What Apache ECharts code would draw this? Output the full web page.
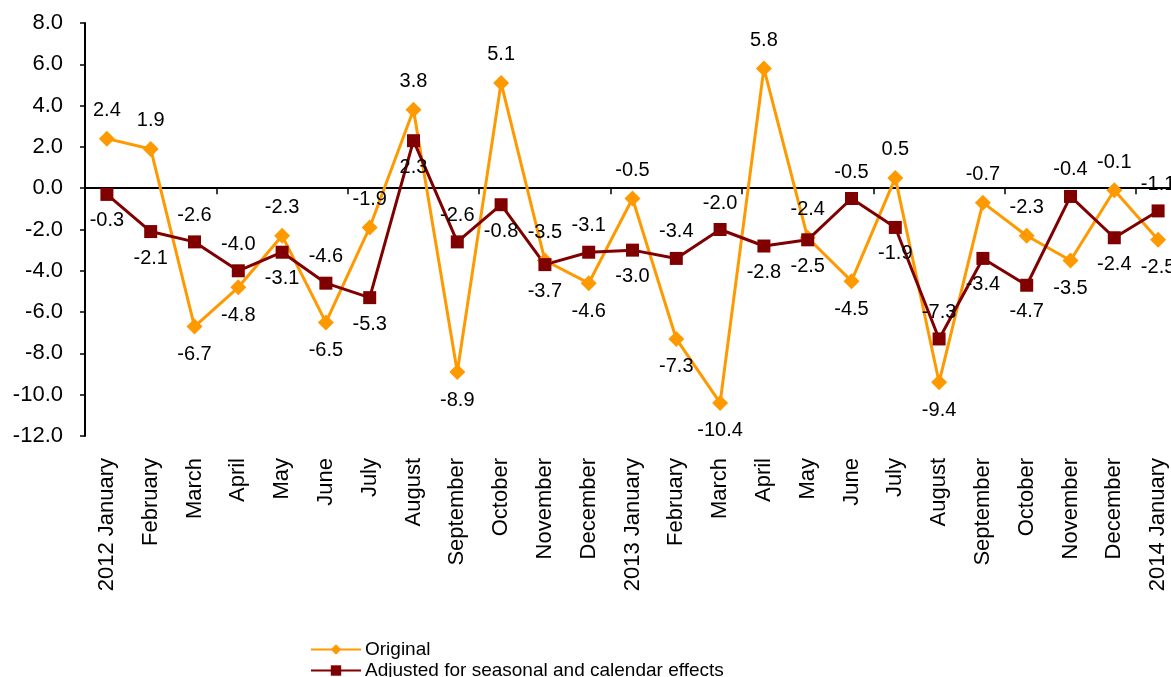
<!DOCTYPE html>
<html>
<head>
<meta charset="utf-8">
<script src="https://cdn.jsdelivr.net/npm/echarts@6/dist/echarts.min.js"></script>
<style>
    html, body { margin: 0; padding: 0; background: #fff; }
    #chart { width: 1171px; height: 677px; }
</style>
</head>
<body>
<div id="chart"></div>
<script>
var months = ['2012 January', 'February', 'March', 'April', 'May', 'June', 'July', 'August',
    'September', 'October', 'November', 'December', '2013 January', 'February', 'March', 'April',
    'May', 'June', 'July', 'August', 'September', 'October', 'November', 'December', '2014 January'];
var original = [2.4, 1.9, -6.7, -4.8, -2.3, -6.5, -1.9, 3.8, -8.9, 5.1, -3.5, -4.6,
    -0.5, -7.3, -10.4, 5.8, -2.4, -4.5, 0.5, -9.4, -0.7, -2.3, -3.5, -0.1, -2.5];
var adjusted = [-0.3, -2.1, -2.6, -4.0, -3.1, -4.6, -5.3, 2.3, -2.6, -0.8, -3.7, -3.1,
    -3.0, -3.4, -2.0, -2.8, -2.5, -0.5, -1.9, -7.3, -3.4, -4.7, -0.4, -2.4, -1.1];
var seriesNames = ['Original', 'Adjusted for seasonal and calendar effects'];
var yTicks = { min: -12, max: 8, step: 2 };

var font = 'Liberation Sans, Arial, sans-serif';

// the higher of the two points gets its label above, the lower one below
function withLabels(values, other) {
    return values.map(function (v, i) {
        return {
            value: v,
            label: { position: v >= other[i] ? 'top' : 'bottom' }
        };
    });
}

// one legend per row, stacked like the original key
function legendRow(name, top) {
    return {
        orient: 'horizontal',
        left: 310,
        top: top,
        itemWidth: 50,
        itemHeight: 13,
        itemGap: 0,
        padding: 0,
        textStyle: { fontFamily: font, fontSize: 19, color: '#000', padding: [0, 0, 0, -1] },
        data: [name]
    };
}

var chart = echarts.init(document.getElementById('chart'));
var option = {
    animation: false,
    backgroundColor: '#fff',
    textStyle: { fontFamily: font },
    grid: {
        left: 85,
        top: 23,
        bottom: 241,
        right: -9,
        containLabel: false,
        outerBoundsMode: 'none'
    },
    legend: [legendRow(seriesNames[0], 640), legendRow(seriesNames[1], 661)],
    xAxis: [{
        // zero line with ticks between the months
        type: 'category',
        data: months,
        position: 'bottom',
        boundaryGap: true,
        axisLine: { onZero: true, lineStyle: { color: '#000', width: 2 } },
        axisTick: { show: true, length: 6, lineStyle: { color: '#000', width: 1.5 } },
        axisLabel: { show: false },
        splitLine: { show: false }
    }, {
        // month names along the bottom of the plot
        type: 'category',
        data: months,
        position: 'bottom',
        boundaryGap: true,
        axisLine: { show: false, onZero: false },
        axisTick: { show: false },
        axisLabel: {
            rotate: 90,
            margin: 22,
            interval: 0,
            fontFamily: font,
            fontSize: 22,
            color: '#000'
        },
        splitLine: { show: false }
    }],
    yAxis: {
        type: 'value',
        min: yTicks.min,
        max: yTicks.max,
        interval: yTicks.step,
        axisLine: { show: true, lineStyle: { color: '#000', width: 2 } },
        axisTick: { show: true, length: 5, lineStyle: { color: '#000', width: 1.5 } },
        axisLabel: {
            margin: 22,
            fontFamily: font,
            fontSize: 22,
            color: '#000',
            formatter: function (v) { return v.toFixed(1); }
        },
        splitLine: { show: false }
    },
    series: [{
        name: seriesNames[0],
        type: 'line',
        xAxisIndex: 0,
        data: withLabels(original, adjusted),
        symbol: 'diamond',
        symbolSize: 16,
        color: '#FF9900',
        lineStyle: { color: '#FF9900', width: 3 },
        itemStyle: { color: '#FF9900' },
        label: {
            show: true,
            distance: 10,
            fontFamily: font,
            fontSize: 20,
            color: '#000',
            formatter: function (p) { return p.value.toFixed(1); }
        }
    }, {
        name: seriesNames[1],
        type: 'line',
        xAxisIndex: 0,
        data: withLabels(adjusted, original),
        symbol: 'rect',
        symbolSize: 13,
        color: '#800000',
        lineStyle: { color: '#800000', width: 3 },
        itemStyle: { color: '#800000' },
        label: {
            show: true,
            distance: 10,
            fontFamily: font,
            fontSize: 20,
            color: '#000',
            formatter: function (p) { return p.value.toFixed(1); }
        }
    }]
};
chart.setOption(option);
window.addEventListener('resize', function () {
    chart.resize();
});
</script>
</body>
</html>
